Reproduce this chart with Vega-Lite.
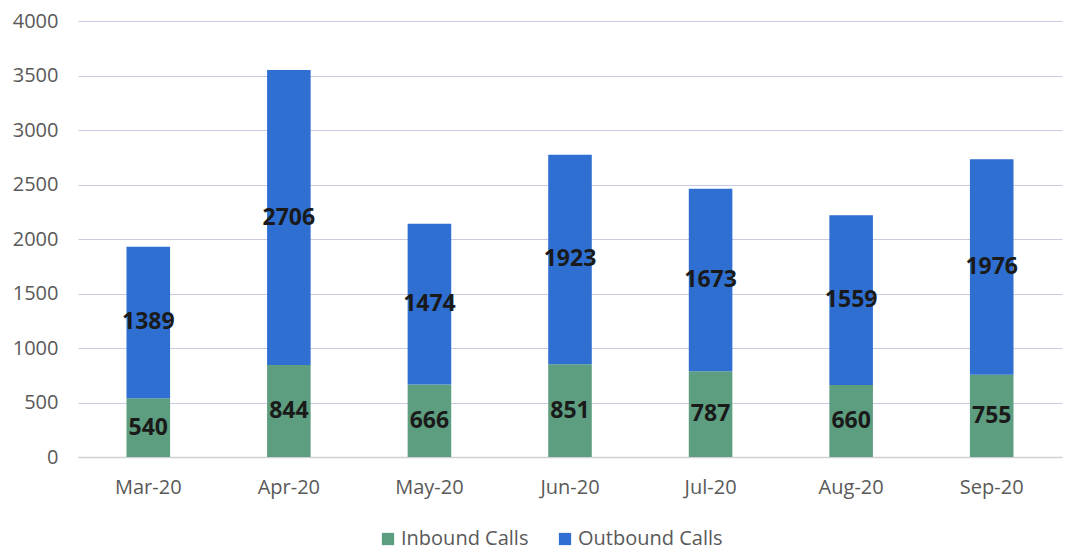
{
  "$schema": "https://vega.github.io/schema/vega-lite/v6.json",
  "width": 984,
  "height": 436,
  "autosize": {"type": "none"},
  "padding": {"left": 78, "top": 21, "right": 3, "bottom": 91},
  "background": "white",
  "config": {
    "view": {"stroke": null},
    "font": "Open Sans"
  },
  "data": {
    "values": [
      {"month": "Mar-20", "type": "Inbound Calls", "value": 540},
      {"month": "Mar-20", "type": "Outbound Calls", "value": 1389},
      {"month": "Apr-20", "type": "Inbound Calls", "value": 844},
      {"month": "Apr-20", "type": "Outbound Calls", "value": 2706},
      {"month": "May-20", "type": "Inbound Calls", "value": 666},
      {"month": "May-20", "type": "Outbound Calls", "value": 1474},
      {"month": "Jun-20", "type": "Inbound Calls", "value": 851},
      {"month": "Jun-20", "type": "Outbound Calls", "value": 1923},
      {"month": "Jul-20", "type": "Inbound Calls", "value": 787},
      {"month": "Jul-20", "type": "Outbound Calls", "value": 1673},
      {"month": "Aug-20", "type": "Inbound Calls", "value": 660},
      {"month": "Aug-20", "type": "Outbound Calls", "value": 1559},
      {"month": "Sep-20", "type": "Inbound Calls", "value": 755},
      {"month": "Sep-20", "type": "Outbound Calls", "value": 1976}
    ]
  },
  "encoding": {
    "x": {
      "field": "month", "type": "nominal", "sort": null,
      "scale": {"paddingInner": 0.69, "paddingOuter": 0.345},
      "axis": {"title": null, "labelAngle": 0, "labelFontSize": 20, "labelColor": "#595959", "ticks": false, "domain": true, "domainColor": "#d0d0d0", "domainWidth": 1.5, "labelPadding": 20}
    },
    "y": {
      "field": "value", "type": "quantitative", "stack": "zero",
      "scale": {"domain": [0, 4000]},
      "axis": {"title": null, "values": [0,500,1000,1500,2000,2500,3000,3500,4000], "format": "d", "labelFontSize": 20, "labelColor": "#595959", "ticks": false, "domain": false, "gridColor": "#c9c9df", "gridWidth": 1.2, "labelPadding": 20}
    },
    "order": {"field": "type", "sort": "ascending"}
  },
  "layer": [
    {
      "mark": {"type": "bar"},
      "encoding": {
        "color": {
          "field": "type", "type": "nominal",
          "scale": {"domain": ["Inbound Calls", "Outbound Calls"], "range": ["#5e9e80", "#2f6fd2"]},
          "legend": {"title": null, "orient": "none", "direction": "horizontal", "legendX": 300, "legendY": 508, "labelFontSize": 20, "labelColor": "#595959", "symbolType": "square", "symbolSize": 150, "columnPadding": 26, "labelOffset": 3}
        }
      }
    },
    {
      "mark": {"type": "text", "fontWeight": "bold", "fontSize": 23, "color": "#1a1a1a"},
      "encoding": {
        "y": {"field": "value", "type": "quantitative", "stack": "zero", "bandPosition": 0.5},
        "text": {"field": "value", "type": "quantitative"}
      }
    }
  ]
}
